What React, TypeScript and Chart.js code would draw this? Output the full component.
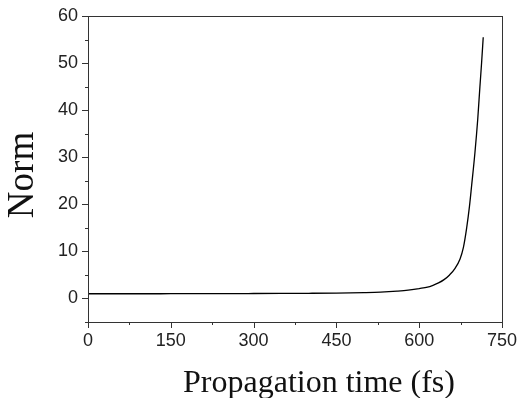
import React, { useEffect, useRef } from "react";
import { Chart, registerables } from "chart.js";

Chart.register(...registerables);

const TIMES = [0, 50, 100, 150, 200, 250, 300, 350, 400, 450, 500, 530, 560, 580, 600, 615, 625, 635, 645, 655, 665, 674, 680, 686, 691, 695, 701, 706, 710, 713, 716];
const NORM = [1.0, 1.0, 1.0, 1.01, 1.02, 1.03, 1.05, 1.07, 1.1, 1.15, 1.25, 1.35, 1.55, 1.75, 2.1, 2.4, 2.8, 3.3, 4.0, 5.0, 6.4, 8.4, 10.8, 15, 19.5, 24, 31, 38, 45, 50, 55.5];

const X_TICKS = [0, 150, 300, 450, 600, 750];
const X_MINOR = [75, 225, 375, 525, 675];
const Y_TICKS = [0, 10, 20, 30, 40, 50, 60];
const Y_MINOR = [-5, 5, 15, 25, 35, 45, 55];

const X_TITLE = "Propagation time (fs)";
const Y_TITLE = "Norm";

const framePlugin = {
  id: "frame",
  afterDraw(chart: any) {
    const { ctx, chartArea, scales } = chart;
    const { left, right, top, bottom } = chartArea;
    ctx.save();
    ctx.strokeStyle = "#333";
    ctx.lineWidth = 1;
    ctx.strokeRect(Math.round(left) + 0.5, Math.round(top) + 0.5, Math.round(right - left), Math.round(bottom - top));
    ctx.beginPath();
    const xs = scales.x, ys = scales.y;
    X_TICKS.forEach((v) => {
      const px = Math.round(xs.getPixelForValue(v)) + 0.5;
      ctx.moveTo(px, bottom);
      ctx.lineTo(px, bottom + 6);
    });
    X_MINOR.forEach((v) => {
      const px = Math.round(xs.getPixelForValue(v)) + 0.5;
      ctx.moveTo(px, bottom);
      ctx.lineTo(px, bottom + 3);
    });
    Y_TICKS.forEach((v) => {
      const py = Math.round(ys.getPixelForValue(v)) + 0.5;
      ctx.moveTo(left, py);
      ctx.lineTo(left - 6, py);
    });
    Y_MINOR.forEach((v) => {
      const py = Math.round(ys.getPixelForValue(v)) + 0.5;
      ctx.moveTo(left, py);
      ctx.lineTo(left - 3, py);
    });
    ctx.stroke();

    ctx.fillStyle = "#111";
    ctx.font = '32px "Liberation Serif", "Times New Roman", serif';
    ctx.textAlign = "center";
    ctx.textBaseline = "alphabetic";
    ctx.fillText(X_TITLE, 319, 392);

    ctx.translate(33, 175);
    ctx.rotate(-Math.PI / 2);
    ctx.font = '37px "Liberation Serif", "Times New Roman", serif';
    ctx.fillText(Y_TITLE, 0, 0);
    ctx.restore();
  },
};

const zeroPad = (s: any) => {
  s.paddingTop = 0;
  s.paddingBottom = 0;
  s.paddingLeft = 0;
  s.paddingRight = 0;
};

export default function App() {
  const ref = useRef<HTMLCanvasElement>(null);
  useEffect(() => {
    if (!ref.current) return;
    const chart = new Chart(ref.current, {
      type: "line",
      data: {
        datasets: [
          {
            data: TIMES.map((t, i) => ({ x: t, y: NORM[i] })),
            borderColor: "#000",
            borderWidth: 1.3,
            pointRadius: 0,
            fill: false,
            cubicInterpolationMode: "monotone",
          },
        ],
      },
      options: {
        responsive: false,
        animation: false,
        layout: { padding: { top: 16, right: 16, left: 0, bottom: 0 } },
        plugins: { legend: { display: false }, tooltip: { enabled: false } },
        scales: {
          x: {
            type: "linear",
            min: 0,
            max: 750,
            afterBuildTicks: (s: any) => {
              s.ticks = X_TICKS.map((v) => ({ value: v }));
            },
            afterFit: (s: any) => {
              s.height = 76;
              zeroPad(s);
            },
            grid: { display: false, drawTicks: false },
            border: { display: false },
            ticks: {
              padding: 8,
              color: "#222",
              font: { family: '"Liberation Sans", Arial, sans-serif', size: 18 },
              maxRotation: 0,
            },
          },
          y: {
            type: "linear",
            min: -5,
            max: 60,
            afterBuildTicks: (s: any) => {
              s.ticks = Y_TICKS.map((v) => ({ value: v }));
            },
            afterFit: (s: any) => {
              s.width = 88;
              zeroPad(s);
            },
            grid: { display: false, drawTicks: false },
            border: { display: false },
            ticks: {
              padding: 10,
              color: "#222",
              font: { family: '"Liberation Sans", Arial, sans-serif', size: 18 },
            },
          },
        },
      },
      plugins: [framePlugin],
    });
    return () => chart.destroy();
  }, []);
  return (
    <div style={{ position: "fixed", left: 0, top: 0, width: 518, height: 398, background: "#fff" }}>
      <canvas ref={ref} width={518} height={398} />
    </div>
  );
}
